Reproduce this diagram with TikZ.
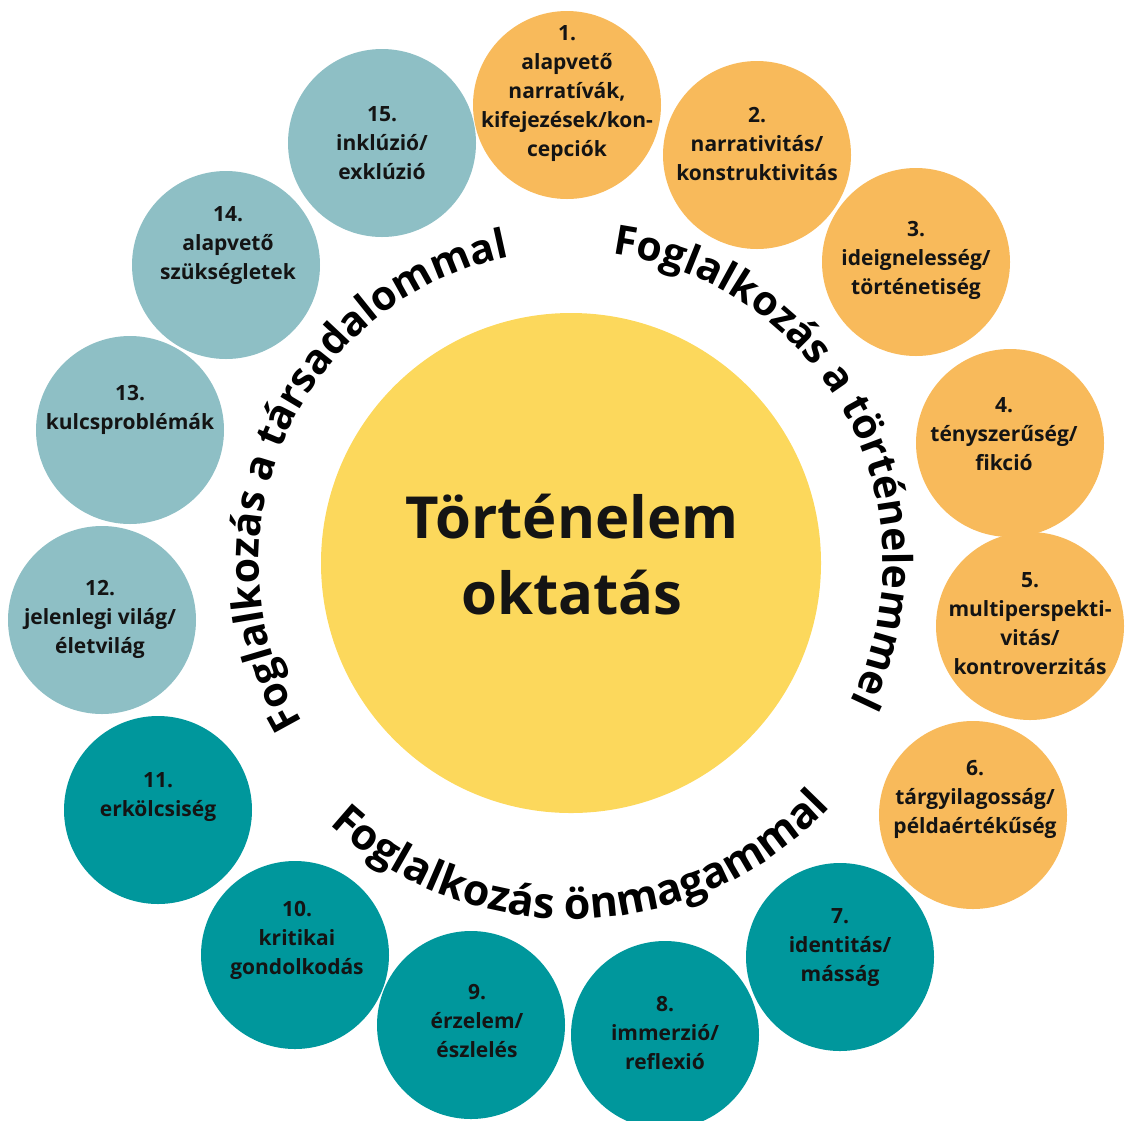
\documentclass[tikz,border=0pt]{standalone}
\usepackage{fontspec}
\setmainfont{Open Sans}
\usetikzlibrary{decorations.text}

\definecolor{sunny}{HTML}{FCD85C}
\definecolor{peach}{HTML}{F8BA5B}
\definecolor{mist}{HTML}{8EBFC5}
\definecolor{deepteal}{HTML}{00979C}
\definecolor{ink}{HTML}{141414}

\newcommand\curvefont{\fontsize{41}{41}\selectfont\bfseries}
\newcommand\lowcurvefont{\fontsize{43}{43}\selectfont\bfseries}

\tikzset{
    bubble/.style={circle, minimum size=188pt, inner sep=0pt}, % the small discs
    historybubble/.style={bubble, fill=peach},
    societybubble/.style={bubble, fill=mist},
    selfbubble/.style={bubble, fill=deepteal},
    bubbletext/.style={align=center, text=ink, inner sep=0pt, font=\bfseries\fontsize{21}{29}\selectfont},
    curvetext/.style={decorate, decoration={text along path, text align=center, text={|\curvefont|#1}}},
    lowcurvetext/.style={decorate, decoration={text along path, text align=center, text={|\lowcurvefont|#1}}},
}

\begin{document}
\begin{tikzpicture}[x=1pt, y=1pt]
    \useasboundingbox (0,0) rectangle (1126,-1120);

    % centre
    \node[circle, fill=sunny, minimum size=500pt, inner sep=0pt] (hub) at (571,-563) {};
    \node[align=center, text=ink, font=\bfseries\fontsize{58}{76}\selectfont] (hubtext) at (572,-555) {Történelem\\oktatás};

    % orange: history
    \node[historybubble] (c1) at (567,-105) {};
    \node[historybubble] (c2) at (757,-155) {};
    \node[historybubble] (c3) at (916,-262) {};
    \node[historybubble] (c4) at (1010,-443) {};
    \node[historybubble] (c5) at (1030,-626) {};
    \node[historybubble] (c6) at (973,-815) {};
    % dark teal: oneself
    \node[selfbubble] (c7) at (840,-957) {};
    \node[selfbubble] (c8) at (665,-1035) {};
    \node[selfbubble] (c9) at (471,-1025) {};
    \node[selfbubble] (c10) at (295,-955) {};
    \node[selfbubble] (c11) at (158,-810) {};
    % light teal: society
    \node[societybubble] (c12) at (102,-620) {};
    \node[societybubble] (c13) at (130,-430) {};
    \node[societybubble] (c14) at (226,-265) {};
    \node[societybubble] (c15) at (382,-143) {};

    \node[bubbletext] (t1) at (567,-94) {1.\\alapvető\\narratívák,\\kifejezések/kon-\\cepciók};
    \node[bubbletext] (t2) at (757,-144) {2.\\narrativitás/\\konstruktivitás};
    \node[bubbletext] (t3) at (916,-260) {3.\\ideignelesség/\\történetiség};
    \node[bubbletext] (t4) at (1004,-434) {4.\\tényszerűség/\\fikció};
    \node[bubbletext] (t5) at (1030,-624) {5.\\multiperspekti-\\vitás/\\kontroverzitás};
    \node[bubbletext] (t6) at (975,-799) {6.\\tárgyilagosság/\\példaértékűség};
    \node[bubbletext] (t7) at (840,-948) {7.\\identitás/\\másság};
    \node[bubbletext] (t8) at (665,-1033) {8.\\immerzió/\\reflexió};
    \node[bubbletext] (t9) at (477,-1021) {9.\\érzelem/\\észlelés};
    \node[bubbletext] (t10) at (297,-940) {10.\\kritikai\\gondolkodás};
    \node[bubbletext] (t11) at (158,-797) {11.\\erkölcsiség};
    \node[bubbletext] (t12) at (100,-619) {12.\\jelenlegi világ/\\életvilág};
    \node[bubbletext] (t13) at (130,-410) {13.\\kulcsproblémák};
    \node[bubbletext] (t14) at (228,-246) {14.\\alapvető\\szükségletek};
    \node[bubbletext] (t15) at (382,-143) {15.\\inklúzió/\\exklúzió};

    % the three arcs of text
    \path[curvetext={Foglalkozás a történelemmel}] (hub.center) ++(92:312) arc[start angle=92, end angle=-36, radius=312];
    \path[curvetext={Foglalkozás a társadalommal}] (hub.center) ++(220:312) arc[start angle=220, end angle=92, radius=312];
    \path[lowcurvetext={Foglalkozás önmagammal}] (hub.center) ++(219:356) arc[start angle=219, end angle=325, radius=356];
\end{tikzpicture}
\end{document}
